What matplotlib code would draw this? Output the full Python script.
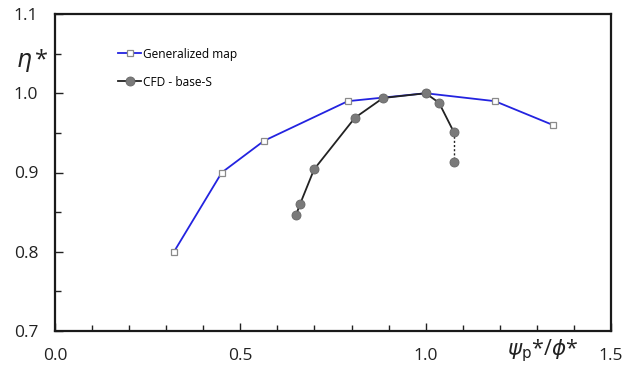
import matplotlib
matplotlib.use("Agg")
import matplotlib.pyplot as plt
from matplotlib.ticker import MultipleLocator, FixedLocator

plt.rcParams['font.family'] = ['Open Sans', 'DejaVu Sans']
plt.rcParams['mathtext.fontset'] = 'dejavusans'

# Generalized map
gen_x = [0.321, 0.450, 0.564, 0.790, 1.000, 1.187, 1.343]
gen_y = [0.800, 0.900, 0.940, 0.990, 1.000, 0.990, 0.960]

# CFD - base-S
cfd_x = [0.650, 0.661, 0.699, 0.809, 0.885, 1.000, 1.036, 1.076]
cfd_y = [0.846, 0.860, 0.904, 0.969, 0.994, 1.000, 0.988, 0.951]
# last point joined by a dotted line
cfd_last_x = [1.076, 1.076]
cfd_last_y = [0.951, 0.913]

xticks = [0.0, 0.5, 1.0, 1.5]
xtick_labels = ['0.0', '0.5', '1.0', '1.5']
yticks = [0.7, 0.8, 0.9, 1.0, 1.1]
ytick_labels = ['0.7', '0.8', '0.9', '1.0', '1.1']

fig = plt.figure(figsize=(6.34, 3.72), dpi=100)
ax = fig.add_axes([55/634, 1-331/372, (611-55)/634, (331-14)/372])

ax.plot(gen_x, gen_y, color='#2323e0', lw=1.3, marker='s', ms=5,
        mfc='white', mec='#8a8a8a', mew=0.9, label='Generalized map', zorder=3)
ax.plot(cfd_last_x, cfd_last_y, color='#222222', lw=1.0, ls=(0, (1.5, 1.5)), zorder=4)
ax.plot(cfd_last_x[1:], cfd_last_y[1:], ls='none', marker='o', ms=6.5,
        mfc='#7a7a7a', mec='#666666', mew=0.6, zorder=5)
ax.plot(cfd_x, cfd_y, color='#222222', lw=1.3, marker='o', ms=6.5,
        mfc='#7a7a7a', mec='#666666', mew=0.6, label='CFD - base-S', zorder=5)

ax.set_xlim(0, 1.5)
ax.set_ylim(0.7, 1.1)
ax.xaxis.set_major_locator(FixedLocator(xticks))
ax.set_xticklabels(xtick_labels)
ax.xaxis.set_minor_locator(MultipleLocator(0.1))
ax.yaxis.set_major_locator(FixedLocator(yticks))
ax.set_yticklabels(ytick_labels)
ax.yaxis.set_minor_locator(MultipleLocator(0.05))

ax.tick_params(which='both', direction='in', top=False, right=False, labelsize=12.5,
               colors='#222222')
ax.tick_params(which='major', length=6, width=1.0, pad=12)
ax.tick_params(which='minor', length=4.5, width=1.0)
for s in ax.spines.values():
    s.set_linewidth(1.6)
    s.set_color('#1a1a1a')

leg = ax.legend(loc='upper left', bbox_to_anchor=(0.104, 0.909), frameon=False,
                fontsize=8.6, handlelength=2.0, handletextpad=0.15, labelspacing=1.25,
                borderaxespad=0.0)

fig.text(32/634, 1-60/372, r'$\eta\,$*', fontsize=17, ha='center', va='center',
         color='#222222')
fig.text(543/634, 1-351/372, r'$\psi_{\rm p}$*/$\phi$*', fontsize=15.5, ha='center',
         va='center', color='#222222')

fig.savefig('out.png', dpi=100)
